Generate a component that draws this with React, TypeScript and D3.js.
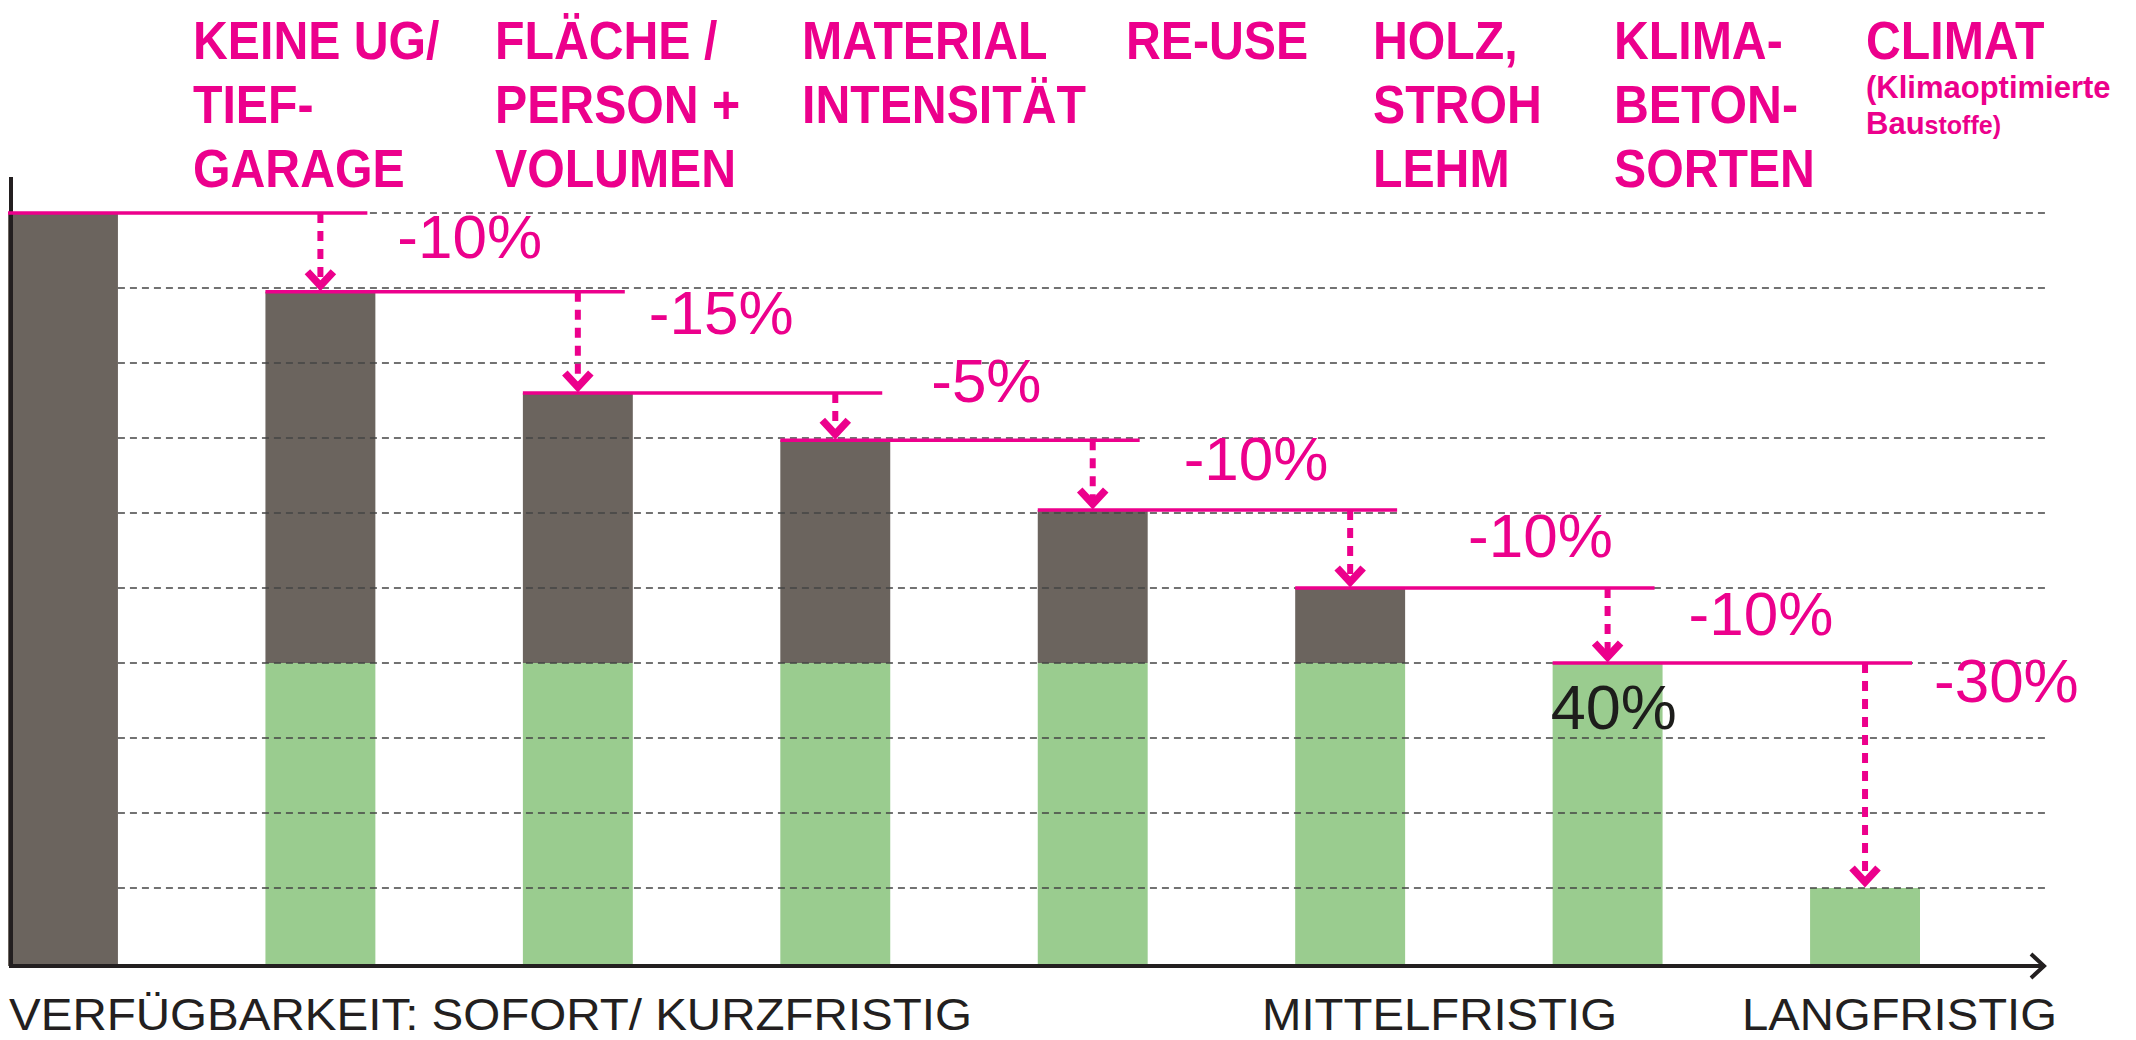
import React from "react";
import * as d3 from "d3";

// ---------- data ----------
const steps = ["Ausgangslage", "Keine UG", "Fläche", "Material", "Re-Use", "Holz", "Klimabeton", "Climat"];
const totalValues = [100, 89.5, 76, 69.7, 60.4, 50, 40, 10];
const greenValues = [0, 40, 40, 40, 40, 40, 40, 10];
const reductionLabels = ["-10%", "-15%", "-5%", "-10%", "-10%", "-10%", "-30%"];
const headerLines = [
  ["KEINE UG/", "TIEF-", "GARAGE"],
  ["FLÄCHE /", "PERSON +", "VOLUMEN"],
  ["MATERIAL", "INTENSITÄT"],
  ["RE-USE"],
  ["HOLZ,", "STROH", "LEHM"],
  ["KLIMA-", "BETON-", "SORTEN"],
  ["CLIMAT"],
];
const noteLine1 = "(Klimaoptimierte";
const noteLine2Big = "Bau";
const noteLine2Small = "stoffe)";
const gridTicks = [10, 20, 30, 40, 50, 60, 70, 80, 90, 100];
const availabilityLabels = ["VERFÜGBARKEIT: SOFORT/ KURZFRISTIG", "MITTELFRISTIG", "LANGFRISTIG"];
const valueLabel = "40%";

// ---------- layout ----------
const W = 2136;
const H = 1040;
const PINK = "#ec008c";
const GREY = "#6b645e";
const GREEN = "#9acc8f";
const DARK = "#231f20";
const FONT = "'Liberation Sans', Arial, sans-serif";
const headerX = [193, 495, 802, 1126, 1373, 1614, 1866];
const availabilityX = [9, 1262, 1742];
const availabilityW = [963, 355, 315];
const labelOffsets = [[22, 45], [16, 42], [41, 9], [36, 40], [63, 47], [26, 47], [14, 39]];

export default function App() {
  const x = d3.scaleBand<string>().domain(steps).range([8, 1920]).paddingInner(0.573).paddingOuter(0);
  const y = d3.scaleLinear().domain([0, 100]).range([963, 213]);
  const bw = x.bandwidth();
  const axisY = y(0) + 3;
  const axisX = 11;
  const gridStart = (x(steps[0]) as number) + bw;
  const gridEnd = 2045;

  return (
    <svg
      width={W}
      height={H}
      viewBox={`0 0 ${W} ${H}`}
      style={{ position: "absolute", left: 0, top: 0, display: "block", background: "#fff" }}
    >
      {/* bars */}
      {steps.map((s, i) => {
        const x0 = x(s) as number;
        const tot = totalValues[i];
        const g = greenValues[i];
        return (
          <g key={s}>
            {tot > g && (
              <rect x={x0} y={y(tot)} width={bw} height={y(g) - y(tot) + (g === 0 ? 3 : 0)} fill={GREY} />
            )}
            {g > 0 && <rect x={x0} y={y(g)} width={bw} height={axisY - y(g)} fill={GREEN} />}
          </g>
        );
      })}

      {/* gridlines */}
      {gridTicks.map((t) => (
        <line
          key={t}
          x1={gridStart}
          x2={gridEnd}
          y1={y(t)}
          y2={y(t)}
          stroke="#444"
          strokeWidth={1.7}
          strokeDasharray="7 5"
        />
      ))}

      {/* axes */}
      <line x1={axisX} x2={axisX} y1={177} y2={axisY + 2} stroke={DARK} strokeWidth={4} />
      <line x1={axisX - 2} x2={gridEnd} y1={axisY} y2={axisY} stroke={DARK} strokeWidth={4} />
      <path
        d={`M${gridEnd - 14},${axisY - 12} L${gridEnd - 1},${axisY} L${gridEnd - 14},${axisY + 12}`}
        fill="none"
        stroke={DARK}
        strokeWidth={4}
      />

      {/* reduction lines, arrows, labels */}
      {reductionLabels.map((lab, i) => {
        const from = steps[i];
        const to = steps[i + 1];
        const ly = y(totalValues[i]);
        const lx1 = x(from) as number;
        const nextRight = (x(to) as number) + bw;
        const lx2 = nextRight - 8;
        const cx = (x(to) as number) + bw / 2;
        const tip = y(totalValues[i + 1]) - 1;
        const [dx, dy] = labelOffsets[i];
        return (
          <g key={i}>
            <line x1={lx1} x2={lx2} y1={ly} y2={ly} stroke={PINK} strokeWidth={3.5} />
            <line
              x1={cx}
              x2={cx}
              y1={ly}
              y2={tip - 9}
              stroke={PINK}
              strokeWidth={6}
              strokeDasharray="10 8"
            />
            <path
              d={`M${cx - 13},${tip - 19} L${cx},${tip - 5} L${cx + 13},${tip - 19}`}
              fill="none"
              stroke={PINK}
              strokeWidth={7.5}
              strokeLinejoin="miter"
            />
            <text
              x={nextRight + dx}
              y={ly + dy}
              fill={PINK}
              fontFamily={FONT}
              fontSize={62}
            >
              {lab}
            </text>
          </g>
        );
      })}

      {/* value label */}
      <text
        x={(x(steps[6]) as number) - 2}
        y={y(40) + 66}
        fill="#1d1d1b"
        fontFamily={FONT}
        fontSize={63}
      >
        {valueLabel}
      </text>

      {/* headers */}
      {headerLines.map((lines, i) => (
        <g key={i}>
          {lines.map((ln, j) => (
            <text
              key={j}
              transform={`translate(${headerX[i]},${59 + j * 64}) scale(0.91,1)`}
              fill={PINK}
              fontFamily={FONT}
              fontWeight="bold"
              fontSize={53}
            >
              {ln}
            </text>
          ))}
        </g>
      ))}
      <text x={headerX[6]} y={98} fill={PINK} fontFamily={FONT} fontWeight="bold" fontSize={31}>
        {noteLine1}
      </text>
      <text x={headerX[6]} y={134} fill={PINK} fontFamily={FONT} fontWeight="bold" fontSize={31}>
        {noteLine2Big}
        <tspan fontSize={25}>{noteLine2Small}</tspan>
      </text>

      {/* availability labels */}
      {availabilityLabels.map((t, i) => (
        <text
          key={t}
          x={availabilityX[i]}
          y={1030}
          fill={DARK}
          fontFamily={FONT}
          fontSize={45}
          textLength={availabilityW[i]}
          lengthAdjust="spacingAndGlyphs"
        >
          {t}
        </text>
      ))}
    </svg>
  );
}
